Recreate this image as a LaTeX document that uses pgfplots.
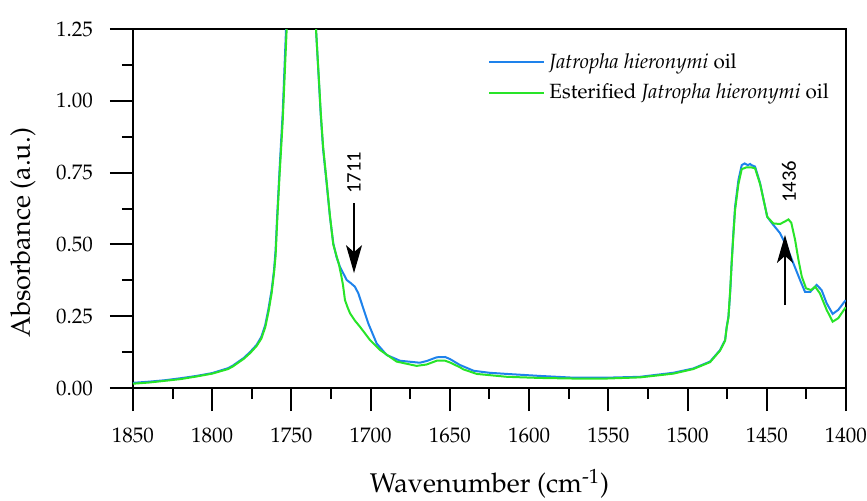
\documentclass[border=0pt]{standalone}
\usepackage{fontspec}
\newfontfamily\annfont{Carlito}
\usepackage[T1]{fontenc}
\usepackage{mathpazo}
\usepackage{pgfplots}
\pgfplotsset{compat=1.18}
\usetikzlibrary{arrows.meta}
\definecolor{oilblue}{RGB}{30,130,235}
\definecolor{oilgreen}{RGB}{40,228,40}

\begin{document}
\begin{tikzpicture}
\begin{axis}[
    at={(0,0)}, anchor=south west,
    width=356.5pt, height=179.5pt, scale only axis,
    x dir=reverse,
    xmin=1400, xmax=1850, ymin=0, ymax=1.25,
    xtick={1400,1450,...,1850}, ytick={0,0.25,...,1.25},
    minor x tick num=1, minor y tick num=1,
    xtick pos=bottom, ytick pos=left,
    tick align=outside,
    major tick length=11.5pt, minor tick length=5.5pt,
    axis line style={line width=1pt},
    every tick/.style={black, line width=1pt},
    x tick label style={font=\fontsize{10.5}{12}\selectfont, yshift=-5pt,
        /pgf/number format/1000 sep={}},
    y tick label style={font=\fontsize{10.5}{12}\selectfont, xshift=-5pt,
        /pgf/number format/.cd, fixed, fixed zerofill, precision=2},
    xlabel={Wavenumber (cm\textsuperscript{-1})},
    ylabel={Absorbance (a.u.)},
    label style={font=\fontsize{13.5}{16}\selectfont},
    xlabel style={at={(axis description cs:0.5,-0.292)}, anchor=base},
    ylabel style={at={(axis description cs:-0.1543,0.432)}, anchor=center},
    clip=true,
    legend cell align=left,
    legend style={at={(axis description cs:0.498,0.945)}, anchor=north west,
        draw=none, fill=none, inner sep=0pt, row sep=2.5pt,
        font=\fontsize{10.3}{12}\selectfont},
    legend image code/.code={\draw[#1, line width=1pt] (0pt,0pt) -- (27.5pt,0pt);},
]
\addplot[oilblue, line width=1pt] coordinates {
(1850,0.018) (1840,0.022) (1830,0.027) (1820,0.034) (1810,0.042) (1800,0.052)
(1790,0.069) (1787,0.078) (1780,0.105) (1776,0.126) (1772,0.150) (1769,0.178)
(1766.5,0.220) (1764.5,0.275) (1762.5,0.341) (1761,0.41) (1760,0.48) (1759,0.60)
(1757.5,0.76) (1755.5,0.96) (1753.4,1.25)
(1750,1.55) (1745,1.75) (1740,1.6) (1735,1.30) (1734.5,1.25) (1732.5,1.05) (1731.5,0.95)
(1730,0.83) (1727.8,0.713) (1725.7,0.596) (1723.6,0.504) (1721.5,0.455) (1719.4,0.422)
(1715.1,0.376) (1712.5,0.365) (1710,0.353) (1707.8,0.330) (1705.7,0.295) (1701.5,0.225) (1696.2,0.155)
(1689.9,0.115) (1681.5,0.095) (1669,0.088) (1664.6,0.094) (1658.3,0.107)
(1653,0.108) (1650,0.101) (1643.6,0.080) (1635,0.060) (1625,0.053) (1614,0.049)
(1593,0.042) (1572,0.036) (1551,0.036) (1530,0.039) (1509,0.053) (1496.4,0.068)
(1485.8,0.092) (1479.5,0.132) (1476.3,0.167) (1475.3,0.213) (1474.2,0.248)
(1473.5,0.30) (1473,0.34) (1472.2,0.434) (1471.1,0.539) (1470,0.631)
(1467.9,0.724) (1465.8,0.776) (1464,0.782) (1462,0.776) (1460.5,0.780)
(1459.6,0.776) (1457.4,0.771) (1454.2,0.713) (1452,0.655) (1449.7,0.596)
(1445.9,0.568) (1441.6,0.539) (1437.4,0.492) (1433.2,0.434) (1429,0.376)
(1425.9,0.335) (1422.5,0.335) (1418.5,0.359) (1415.4,0.341) (1412.2,0.295)
(1408.4,0.258) (1404.9,0.272) (1400.2,0.306)
};
\addlegendentry{\textit{Jatropha hieronymi} oil}
\addplot[oilgreen, line width=1pt] coordinates {
(1850,0.015) (1840,0.019) (1830,0.025) (1820,0.031) (1810,0.040) (1800,0.050)
(1790,0.066) (1787,0.075) (1780,0.102) (1776,0.122) (1772,0.146) (1769,0.172)
(1766.5,0.212) (1764.5,0.265) (1762.5,0.330) (1761,0.40) (1760,0.46) (1759,0.58)
(1757.5,0.74) (1755.5,0.93) (1753,1.25)
(1750,1.55) (1745,1.72) (1740,1.58) (1735,1.30) (1734.5,1.25) (1732.5,1.06) (1731.5,0.96)
(1730,0.84) (1727.8,0.72) (1725.7,0.60) (1723.6,0.50) (1720,0.43) (1718.5,0.39) (1717.5,0.36)
(1716.2,0.306) (1714.5,0.28) (1713,0.26) (1710,0.235) (1706.7,0.213) (1700.4,0.167) (1694,0.132)
(1683.6,0.092) (1671,0.077) (1664.6,0.082) (1658.3,0.095) (1653,0.095)
(1650,0.089) (1643.6,0.072) (1641.5,0.065) (1633,0.049) (1614,0.039)
(1593,0.035) (1572,0.033) (1551,0.033) (1530,0.037) (1509,0.050) (1496.4,0.066)
(1485.8,0.090) (1479.5,0.13) (1476.3,0.165) (1475.3,0.21) (1474.2,0.245)
(1473.2,0.33) (1472.2,0.43) (1471.1,0.53) (1470,0.62) (1467.9,0.71)
(1465.8,0.762) (1463,0.768) (1459.6,0.768) (1457.4,0.765) (1454.2,0.71)
(1452,0.655) (1449.7,0.596) (1445.9,0.573) (1441.6,0.571) (1438.5,0.58)
(1436.3,0.587) (1434.5,0.575) (1432.1,0.515) (1430,0.446) (1427.9,0.388)
(1425.2,0.347) (1422,0.341) (1419.5,0.353) (1416.5,0.330) (1412.2,0.272)
(1408.4,0.231) (1404.9,0.243) (1400.2,0.281)
};
\addlegendentry{Esterified \textit{Jatropha hieronymi} oil}
% annotations
\draw[line width=0.7pt, -{Stealth[length=14pt, width=8pt, inset=3.5pt]}]
    (axis cs:1710.5,0.644) -- (axis cs:1710.5,0.400);
\node[rotate=90, font=\annfont\fontsize{10.3}{12}\selectfont]
    at (axis cs:1710.5,0.750) {1711};
\draw[line width=0.7pt, -{Stealth[length=14pt, width=8pt, inset=3.5pt]}]
    (axis cs:1438.5,0.289) -- (axis cs:1438.5,0.533);
\node[rotate=90, font=\annfont\fontsize{10.3}{12}\selectfont]
    at (axis cs:1436,0.718) {1436};
\end{axis}
\pgfresetboundingbox
\path[use as bounding box] (-66.5pt,-56pt) rectangle (367pt,194pt);
\end{tikzpicture}
\end{document}
